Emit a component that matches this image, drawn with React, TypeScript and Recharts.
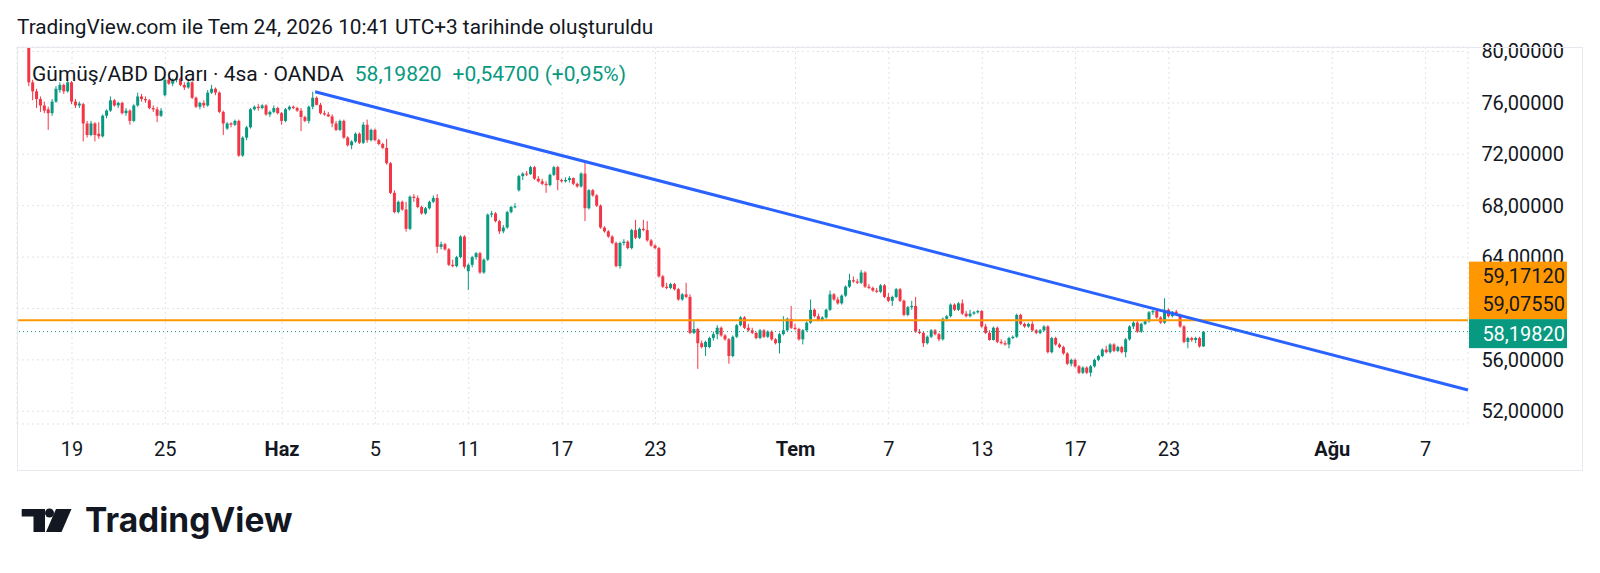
import React from "react";
import { Bar, CartesianGrid, ComposedChart, ReferenceLine, XAxis, YAxis } from "recharts";

// XAGUSD 4h candles (OANDA): [open, high, low, close]
const candles: [number, number, number, number][] = [
  [80.6, 81.0, 77.3, 77.6], [77.6, 77.8, 76.2, 76.9], [76.9, 77.1, 75.6, 76.3], [76.3, 76.5, 75.3, 75.8],
  [75.8, 76.1, 75.2, 75.4], [75.5, 75.7, 73.9, 75.2], [75.2, 76.3, 75.0, 76.1], [76.1, 77.3, 76.0, 77.1],
  [77.0, 77.6, 76.8, 77.4], [77.4, 77.5, 76.7, 76.9], [76.9, 77.8, 76.8, 77.6], [77.6, 77.7, 75.9, 76.1],
  [76.1, 76.3, 75.6, 75.8], [75.8, 76.1, 75.6, 75.95], [75.9, 76.0, 73.0, 74.4], [74.4, 74.6, 73.3, 73.5],
  [73.5, 74.6, 73.4, 74.4], [74.4, 74.5, 73.0, 73.5], [73.6, 74.5, 73.2, 73.4], [73.4, 75.1, 73.3, 75.0],
  [75.0, 75.5, 74.8, 75.4], [75.4, 76.5, 75.3, 76.2], [76.2, 76.3, 75.7, 75.8], [75.8, 76.1, 75.6, 76.0],
  [76.0, 76.1, 75.1, 75.2], [75.2, 75.6, 75.0, 75.4], [75.4, 75.5, 74.3, 74.6], [74.6, 75.9, 74.5, 75.8],
  [75.8, 76.8, 75.7, 76.5], [76.5, 76.7, 76.1, 76.3], [76.3, 76.5, 76.0, 76.2], [76.2, 76.3, 75.5, 75.6],
  [75.6, 75.8, 75.3, 75.5], [75.5, 75.7, 74.5, 75.0], [75.0, 75.6, 74.9, 75.4], [76.6, 78.0, 76.5, 77.8],
  [77.8, 78.0, 77.4, 77.5], [77.5, 77.9, 77.3, 77.8], [77.8, 78.1, 77.6, 77.9], [77.9, 78.0, 77.3, 77.4],
  [77.4, 77.6, 77.0, 77.2], [77.2, 77.8, 77.1, 77.6], [77.6, 77.7, 76.3, 76.4], [76.4, 76.5, 75.6, 75.7],
  [75.7, 76.1, 75.5, 76.0], [76.0, 76.2, 75.6, 75.8], [75.8, 77.0, 75.7, 76.8], [76.8, 77.4, 76.7, 77.1],
  [77.1, 77.2, 76.6, 76.8], [76.8, 76.9, 75.2, 75.3], [75.3, 75.4, 73.5, 74.4], [74.0, 74.5, 73.9, 74.4],
  [74.4, 74.5, 74.1, 74.3], [74.3, 74.7, 74.2, 74.6], [74.6, 74.7, 71.8, 71.9], [71.9, 73.4, 71.8, 73.3],
  [73.3, 74.2, 73.1, 74.1], [74.1, 75.6, 74.0, 75.5], [75.5, 75.8, 75.4, 75.7], [75.7, 75.9, 75.4, 75.6],
  [75.6, 75.9, 75.5, 75.8], [75.8, 75.9, 75.0, 75.1], [75.1, 75.4, 74.9, 75.3], [75.3, 75.8, 75.2, 75.6],
  [75.6, 75.7, 75.1, 75.2], [75.2, 75.3, 74.3, 74.6], [74.6, 75.6, 74.5, 75.5], [75.5, 75.8, 75.4, 75.7],
  [75.7, 75.8, 75.5, 75.6], [75.6, 75.7, 75.3, 75.4], [75.4, 75.6, 73.8, 74.9], [74.9, 75.0, 74.5, 74.6],
  [74.6, 75.8, 74.4, 75.7],
  [75.7, 76.87, 75.5, 76.4], [76.4, 76.5, 75.8, 75.85], [75.85, 76.0, 75.1, 75.2], [75.2, 75.4, 75.0, 75.1],
  [75.1, 75.3, 74.9, 74.95], [74.95, 75.1, 74.1, 74.4], [74.4, 74.6, 73.8, 73.9], [73.9, 74.7, 73.8, 74.6],
  [74.6, 74.7, 73.2, 73.3], [73.3, 73.4, 72.6, 72.7], [72.7, 73.1, 72.4, 73.0], [73.0, 73.7, 72.9, 73.6],
  [73.6, 73.7, 72.8, 72.9], [72.9, 74.5, 72.8, 74.3], [74.3, 74.7, 72.9, 73.1], [73.1, 74.0, 73.0, 73.9],
  [73.9, 74.0, 73.0, 73.1], [73.1, 73.2, 72.7, 72.8], [72.8, 72.9, 72.4, 72.5], [72.5, 73.2, 71.2, 71.3],
  [71.3, 71.4, 68.9, 69.0], [69.0, 69.2, 67.4, 67.5], [67.5, 68.4, 67.4, 68.3], [68.3, 68.4, 67.6, 67.7],
  [67.7, 68.3, 65.98, 66.2], [66.2, 68.8, 66.1, 68.7], [68.7, 68.9, 68.3, 68.6], [68.6, 68.8, 67.8, 67.9],
  [67.9, 68.0, 67.3, 67.4], [67.4, 67.9, 67.3, 67.8], [67.8, 68.4, 67.7, 68.3], [68.3, 68.8, 68.2, 68.6],
  [68.6, 68.9, 64.3, 64.8], [64.8, 65.2, 64.6, 65.0], [65.0, 65.1, 64.5, 64.6], [64.6, 64.7, 63.3, 63.4],
  [63.4, 63.8, 63.2, 63.3], [63.3, 64.1, 63.2, 64.0], [64.0, 65.7, 63.9, 65.6], [65.6, 65.7, 63.1, 63.25],
  [62.9, 63.5, 61.44, 63.4], [63.4, 64.1, 63.2, 64.0], [64.0, 64.4, 63.8, 64.3], [64.3, 64.4, 62.7, 62.8],
  [62.8, 63.9, 62.7, 63.8], [63.8, 67.4, 63.7, 67.3], [67.3, 67.6, 67.1, 67.4], [67.4, 67.5, 66.7, 66.8],
  [66.8, 66.9, 65.8, 66.0], [66.0, 66.5, 65.85, 66.3], [66.3, 67.6, 66.2, 67.5], [67.5, 68.0, 67.4, 67.9],
  [67.9, 68.2, 67.8, 67.95], [69.2, 70.4, 69.1, 70.3], [70.3, 70.6, 70.0, 70.5], [70.5, 70.7, 70.3, 70.45],
  [70.45, 71.1, 70.4, 71.0], [71.0, 71.1, 70.0, 70.1], [70.1, 70.3, 69.8, 69.9], [69.9, 70.1, 69.6, 69.7],
  [69.7, 69.9, 69.0, 69.6], [69.6, 70.5, 69.5, 70.4], [70.4, 71.1, 70.3, 71.0], [71.0, 71.1, 69.2, 70.0],
  [70.0, 70.1, 69.8, 69.9], [69.9, 70.2, 69.8, 70.0], [70.0, 70.3, 69.8, 70.15], [70.15, 70.2, 69.6, 69.7],
  [69.7, 69.8, 69.4, 69.5], [69.5, 70.6, 69.4, 70.5], [70.5, 71.45, 66.8, 67.8], [67.8, 69.3, 67.7, 69.2],
  [69.2, 69.3, 68.7, 68.8], [68.8, 68.9, 67.9, 68.0], [68.0, 68.1, 66.2, 66.3], [66.3, 66.4, 65.9, 66.0],
  [66.0, 66.1, 65.5, 65.6], [65.6, 65.7, 65.0, 65.1], [65.1, 65.2, 63.2, 63.3], [63.3, 65.2, 63.1, 65.1],
  [65.1, 65.4, 64.9, 65.2], [65.2, 65.3, 64.6, 64.7], [64.7, 66.2, 64.6, 66.1], [66.1, 66.9, 65.4, 65.5],
  [65.5, 66.3, 65.4, 66.2], [66.2, 66.9, 66.0, 66.1], [66.1, 66.8, 65.2, 65.3], [65.3, 65.4, 64.8, 64.9],
  [64.9, 65.0, 64.6, 64.7], [64.7, 64.8, 62.4, 62.5], [62.5, 62.6, 61.6, 61.7], [61.7, 62.0, 61.5, 61.6],
  [61.6, 62.0, 61.5, 61.9], [61.9, 62.0, 61.4, 61.5], [61.5, 61.6, 60.6, 60.7], [60.7, 61.2, 60.6, 61.1],
  [61.1, 62.0, 60.8, 60.9], [60.9, 61.1, 58.0, 58.1], [58.1, 59.0, 58.0, 58.4], [58.4, 58.5, 55.3, 57.3],
  [57.3, 57.5, 56.9, 57.0], [57.0, 57.5, 56.3, 57.4], [57.0, 57.8, 56.9, 57.7], [57.7, 58.2, 57.5, 58.0],
  [58.0, 58.7, 57.6, 58.5], [58.5, 58.6, 57.8, 57.9], [57.9, 58.0, 57.5, 57.6], [57.6, 57.7, 55.7, 56.3],
  [56.3, 57.9, 56.2, 57.8], [57.8, 58.8, 57.7, 58.7], [58.7, 59.4, 58.6, 59.3], [59.3, 59.4, 58.4, 58.5],
  [58.5, 58.8, 58.2, 58.3], [58.3, 58.5, 58.0, 58.1], [58.1, 58.2, 57.6, 57.7], [57.7, 58.4, 57.6, 58.3],
  [58.3, 58.4, 57.7, 57.8], [57.8, 58.3, 57.7, 58.2], [58.2, 58.3, 57.5, 57.6], [57.6, 57.7, 57.2, 57.3],
  [57.3, 58.1, 56.5, 58.0], [58.0, 59.4, 57.9, 58.3], [58.3, 59.3, 58.2, 59.2], [59.2, 60.2, 58.4, 58.5],
  [58.5, 58.8, 58.3, 58.4], [58.4, 58.5, 57.5, 57.6], [57.6, 58.4, 57.2, 58.3], [58.3, 59.0, 58.2, 58.9],
  [58.9, 60.7, 58.8, 59.9], [59.9, 60.0, 59.3, 59.4], [59.4, 59.6, 59.0, 59.1], [59.1, 59.4, 59.0, 59.3],
  [59.3, 60.0, 59.2, 59.9], [59.9, 61.4, 59.8, 61.1], [61.1, 61.2, 60.6, 60.7], [60.7, 60.9, 60.3, 60.4],
  [60.4, 61.1, 60.3, 61.0], [61.0, 61.8, 60.9, 61.7], [61.7, 62.7, 61.6, 62.2], [62.2, 62.5, 62.0, 62.1],
  [62.1, 62.3, 61.9, 62.0], [62.0, 63.0, 61.9, 62.8], [62.8, 62.9, 61.6, 61.7], [61.7, 61.9, 61.5, 61.6],
  [61.6, 61.7, 61.3, 61.4], [61.4, 61.6, 61.2, 61.3], [61.3, 61.9, 61.2, 61.8], [61.8, 61.9, 60.8, 60.9],
  [60.9, 61.2, 60.5, 60.6], [60.6, 61.0, 60.2, 60.9], [60.9, 61.6, 60.8, 61.5], [61.5, 61.6, 60.5, 60.6],
  [60.6, 60.7, 59.4, 59.5], [59.5, 60.2, 59.4, 60.1], [60.1, 60.6, 59.9, 60.2], [60.2, 60.9, 58.1, 58.2],
  [58.2, 58.4, 58.0, 58.1], [58.1, 58.2, 57.0, 57.3], [57.3, 57.9, 57.2, 57.8], [57.8, 58.4, 57.7, 58.3],
  [58.3, 58.4, 57.9, 58.0], [58.0, 58.1, 57.45, 57.6], [57.6, 59.3, 57.5, 59.2], [59.2, 59.5, 59.0, 59.4],
  [59.4, 60.4, 59.3, 60.3], [60.3, 60.4, 59.8, 59.9], [59.9, 60.5, 59.8, 60.4], [60.4, 60.7, 59.5, 59.6],
  [59.6, 59.8, 59.3, 59.4], [59.4, 59.9, 59.3, 59.6], [59.6, 59.8, 59.5, 59.7], [59.7, 59.9, 59.6, 59.8],
  [59.8, 59.9, 58.5, 58.6], [58.6, 58.8, 58.0, 58.1], [58.1, 58.3, 57.5, 57.55], [57.55, 58.6, 57.5, 58.5],
  [58.5, 58.6, 57.3, 57.4], [57.4, 57.6, 57.2, 57.3], [57.3, 57.5, 57.1, 57.2], [57.2, 57.8, 56.9, 57.7],
  [57.7, 57.9, 57.6, 57.8], [57.8, 59.6, 57.7, 59.5], [59.5, 59.6, 58.7, 58.8], [58.8, 58.9, 58.5, 58.6],
  [58.6, 58.9, 58.5, 58.8], [58.8, 59.0, 58.2, 58.3], [58.3, 58.4, 58.0, 58.1], [58.1, 58.4, 58.0, 58.3],
  [58.3, 58.7, 58.2, 58.6], [58.6, 58.7, 56.5, 56.6], [56.6, 57.8, 56.5, 57.7], [57.7, 57.8, 57.1, 57.2],
  [57.2, 57.3, 56.9, 57.0], [57.0, 57.1, 56.4, 56.5], [56.5, 56.6, 55.6, 55.7], [55.7, 56.1, 55.5, 56.0],
  [56.0, 56.1, 55.4, 55.5], [55.5, 55.6, 54.9, 55.0], [55.0, 55.5, 54.9, 55.4], [55.4, 55.5, 54.9, 55.0],
  [55.0, 55.6, 54.7, 55.5], [55.5, 56.1, 55.4, 56.0], [56.0, 56.4, 55.9, 56.3], [56.3, 56.9, 56.2, 56.8],
  [56.8, 57.1, 56.5, 56.6], [56.6, 57.3, 56.5, 57.2], [57.2, 57.3, 56.6, 56.7], [56.7, 57.1, 56.6, 57.0],
  [57.0, 57.1, 56.5, 56.6], [56.6, 57.7, 56.2, 57.6], [57.6, 58.7, 57.5, 58.6], [58.6, 59.0, 58.4, 58.9],
  [58.9, 59.1, 58.1, 58.2], [58.2, 58.9, 58.1, 58.8], [58.8, 59.1, 58.7, 59.0], [59.0, 59.8, 58.9, 59.7],
  [59.7, 59.9, 59.5, 59.8], [59.8, 59.9, 59.2, 59.3], [59.3, 59.4, 58.8, 58.9], [58.9, 60.8, 58.8, 59.9],
  [59.9, 60.0, 59.3, 59.4], [59.4, 59.8, 59.3, 59.75], [59.75, 59.9, 59.4, 59.5], [59.5, 59.6, 58.5, 58.6],
  [58.6, 58.7, 57.3, 57.4], [57.4, 57.8, 56.9, 57.7], [57.7, 57.8, 57.4, 57.55], [57.55, 57.8, 57.3, 57.7],
  [57.7, 57.8, 56.95, 57.05], [57.05, 58.25, 57.0, 58.2],
];

// time axis: bar index of the first bar of each labelled day
const tickIndex = [11, 35, 65, 89, 113, 137, 161, 197, 221, 245, 269, 293, 335, 359];
const tickLabels = ["19", "25", "Haz", "5", "11", "17", "23", "Tem", "7", "13", "17", "23", "Ağu", "7"];
const monthLabels = ["Haz", "Tem", "Ağu"];
const priceTicks = [52, 56, 60, 64, 68, 72, 76, 80];
const coveredTicks = [60]; // hidden behind the stacked price labels

// drawings
const trendLine = [
  { x: 73.5, y: 76.87 },
  { x: 369.9, y: 53.66 },
];
const horizontalLevel = 59.0755;
const trendLevel = 59.1712;
const lastPrice = 58.1982;

const UP = "#089981";
const DOWN = "#F23645";
const INK = "#131722";
const FONT = "Roboto, sans-serif";

const data = candles.map(([o, h, l, c], i) => ({ i, o, h, l, c, range: [l, h] }));

const fmt = (v: number) => v.toFixed(5).replace(".", ",");

function Candle(props: any) {
  const { x, y, width, height, payload } = props;
  if (!payload) return null;
  const { o, h, l, c } = payload;
  const color = c >= o ? UP : DOWN;
  const k = h - l > 0 ? height / (h - l) : 0;
  const top = y + (h - Math.max(o, c)) * k;
  const bottom = y + (h - Math.min(o, c)) * k;
  const cx = x + width / 2;
  return (
    <g>
      <line x1={cx} x2={cx} y1={y} y2={y + height} stroke={color} strokeWidth={1} />
      <rect x={x} y={top} width={width} height={Math.max(1, bottom - top)} fill={color} />
    </g>
  );
}

function TimeTick(props: any) {
  const { x, y, payload } = props;
  const label = tickLabels[tickIndex.indexOf(payload.value)] ?? "";
  const bold = monthLabels.includes(label);
  return (
    <text x={x} y={y + 32} textAnchor="middle" fontFamily={FONT} fontSize={20}
      fontWeight={bold ? 700 : 400} fill={INK}>
      {label}
    </text>
  );
}

function PriceTick(props: any) {
  const { x, y, payload } = props;
  if (coveredTicks.includes(payload.value)) return <g />;
  return (
    <text x={x + 96} y={y + 7} textAnchor="end" fontFamily={FONT} fontSize={20} fill={INK}>
      {fmt(payload.value)}
    </text>
  );
}

// stacked price-scale labels, anchored on the last-price line
function ScaleLabels(props: any) {
  const { viewBox } = props;
  if (!viewBox) return null;
  const bx = viewBox.x + viewBox.width + 1;
  const Y = viewBox.y;
  return (
    <g fontFamily={FONT} fontSize={20}>
      <rect x={bx} y={Y - 70} width={98} height={57.5} fill="#FF9800" />
      <text x={bx + 96} y={Y - 49} textAnchor="end" fill={INK}>{fmt(trendLevel)}</text>
      <text x={bx + 96} y={Y - 21} textAnchor="end" fill={INK}>{fmt(horizontalLevel)}</text>
      <rect x={bx} y={Y - 12.5} width={98} height={29} fill={UP} />
      <text x={bx + 96} y={Y + 9} textAnchor="end" fill="#ffffff">{fmt(lastPrice)}</text>
    </g>
  );
}

function Overlay() {
  return (
    <svg width={1600} height={573} style={{ position: "absolute", left: 0, top: 0, pointerEvents: "none" }}>
      <rect x={17.5} y={47.5} width={1565} height={423} fill="none" stroke="#e6e8ee" strokeWidth={1} />
      <text x={17} y={33.5} fontFamily={FONT} fontSize={20.8} fill={INK}>
        TradingView.com ile Tem 24, 2026 10:41 UTC+3 tarihinde oluşturuldu
      </text>
      <text x={32} y={81} fontFamily={FONT} fontSize={21} fill={INK}>
        Gümüş/ABD Doları · 4sa · OANDA
        <tspan dx={11} fill={UP}>58,19820</tspan>
        <tspan dx={11} fill={UP}>+0,54700 (+0,95%)</tspan>
      </text>
      <g fill={INK}>
        <path d="M21.7 509 H45 V532 H33.5 V516.5 H21.7 Z" />
        <circle cx={49.5} cy={513} r={4.5} />
        <path d="M56 509 H71.5 L61.5 532 H46 Z" />
      </g>
      <text x={85} y={532} fontFamily="Inter, sans-serif" fontSize={33.5} fontWeight={700} fill={INK}>
        TradingView
      </text>
    </svg>
  );
}

export default function App() {
  return (
    <div style={{ position: "fixed", left: 0, top: 0, width: 1600, height: 573, background: "#ffffff" }}>
      <ComposedChart width={1600} height={573} data={data}
        margin={{ top: 47, right: 17, bottom: 102, left: 17 }}>
        <CartesianGrid stroke="#e0e3eb" strokeDasharray="2 3" />
        <XAxis dataKey="i" type="number" domain={[-3.14, 369.9]} allowDataOverflow ticks={tickIndex}
          height={47} axisLine={false} tickLine={false} tickSize={0} tickMargin={0} tick={<TimeTick />} interval={0} />
        <YAxis orientation="right" type="number" domain={[51.01, 80.35]} allowDataOverflow ticks={priceTicks}
          width={115} axisLine={false} tickLine={false} tickSize={0} tickMargin={0} tick={<PriceTick />} interval={0} />
        <Bar dataKey="range" barSize={3} shape={<Candle />} isAnimationActive={false} />
        <ReferenceLine y={horizontalLevel} stroke="#FF9800" strokeWidth={2} />
        <ReferenceLine segment={trendLine} stroke="#2962FF" strokeWidth={3} />
        <ReferenceLine y={lastPrice} stroke={UP} strokeDasharray="1 3" strokeWidth={1}
          zIndex={2000} label={<ScaleLabels />} />
      </ComposedChart>
      <Overlay />
    </div>
  );
}
